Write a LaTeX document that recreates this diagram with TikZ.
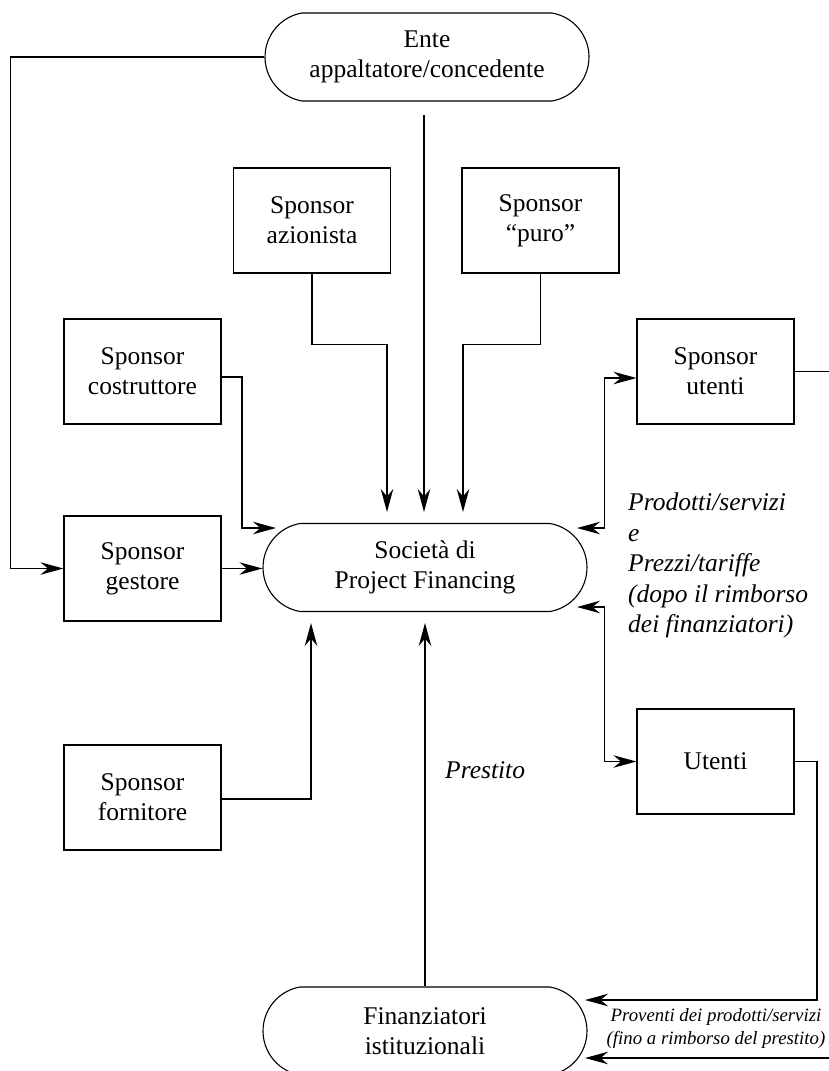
\documentclass[tikz,border=0pt]{standalone}
\usepackage{fontspec}
\setmainfont{Liberation Serif}
\usetikzlibrary{shapes.misc,arrows.meta}
\begin{document}
\begin{tikzpicture}[x=1pt,y=-1pt,
  every node/.style={inner sep=0pt},
  sq/.style={draw, line width=1.1pt, minimum width=157pt, minimum height=105pt, align=center, font=\fontsize{25.5}{30}\selectfont},
  rr/.style={draw, line width=1.1pt, rounded rectangle, rounded rectangle arc length=160, minimum width=324pt, minimum height=88pt, align=center, font=\fontsize{25.5}{30}\selectfont},
  arr/.style={line width=1.3pt, -{Stealth[length=23pt,width=12.5pt]}},
  dbl/.style={line width=1.3pt, {Stealth[length=23pt,width=12.5pt]}-{Stealth[length=23pt,width=12.5pt]}},
  ln/.style={line width=1.3pt},
  lab/.style={font=\fontsize{25.5}{30.5}\selectfont\itshape, align=left},
  slab/.style={font=\fontsize{18.8}{23}\selectfont\itshape, align=center}]
\useasboundingbox (0,0) rectangle (829,1071);
% nodes
\node[rr] (ente) at (427,57) {Ente\\appaltatore/concedente};
\node[sq] (azion) at (312,220.5) {Sponsor\\azionista};
\node[sq] (puro) at (540.5,220.5) {Sponsor\\“puro”};
\node[sq] (costr) at (142.5,371.5) {Sponsor\\costruttore};
\node[sq] (sutenti) at (715.5,371.5) {Sponsor\\utenti};
\node[sq] (gest) at (142.5,568.5) {Sponsor\\gestore};
\node[rr] (soc) at (425,567.5) {Società di\\Project Financing};
\node[sq] (utenti) at (715.5,761.5) {Utenti};
\node[sq] (fornit) at (142.5,797.5) {Sponsor\\fornitore};
\node[rr] (finanz) at (425,1031) {Finanziatori\\istituzionali};
% free ends
\coordinate (eTop) at (424,115);
\coordinate (tE) at (424,512);
\coordinate (tA) at (387,512);
\coordinate (tP) at (463,512);
\coordinate (cC) at (242,528);
\coordinate (tC) at (276,528);
\coordinate (tS1) at (577,528);
\coordinate (tS2) at (577,607);
\coordinate (tB1) at (311,623);
\coordinate (tB2) at (425,623);
\coordinate (sEnd) at (829,371.5);
\coordinate (uCorner) at (817,1000);
\coordinate (tF1) at (585,1000);
\coordinate (bStart) at (829,1058);
\coordinate (tF2) at (585,1058);
% connectors
\draw[arr] (ente.west) -| ([xshift=-53pt]gest.west) -- (gest.west);
\draw[arr] (eTop) -- (tE);
\draw[arr] (azion.south) -- ++(0,71) -| (tA);
\draw[arr] (puro.south) -- ++(0,71) -| (tP);
\draw[arr] ([yshift=-5.5pt]costr.east) -| (cC) -- (tC);
\draw[arr] (gest.east) -- (gest.east -| soc.west);
\draw[dbl] (tS1) -| ([xshift=-32pt,yshift=-6.5pt]sutenti.west) -- ([yshift=-6.5pt]sutenti.west);
\draw[dbl] (tS2) -| ([xshift=-32pt]utenti.west) -- (utenti.west);
\draw[ln] (sutenti.east) -- (sEnd);
\draw[arr] (utenti.east) -| (uCorner) -- (tF1);
\draw[arr] (bStart) -- (tF2);
\draw[arr] (finanz.north) -- (tB2);
\draw[arr] ([yshift=-1.5pt]fornit.east) -| (tB1);
% labels
\node[lab, anchor=west] (prest) at (445,770) {Prestito};
\node[lab, anchor=north west] (prod) at (628,493) {Prodotti/servizi\\e\\Prezzi/tariffe\\(dopo il rimborso\\dei finanziatori)};
\node[slab] (prov) at (716,1028.5) {Proventi dei prodotti/servizi\\(fino a rimborso del prestito)};
\end{tikzpicture}
\end{document}
